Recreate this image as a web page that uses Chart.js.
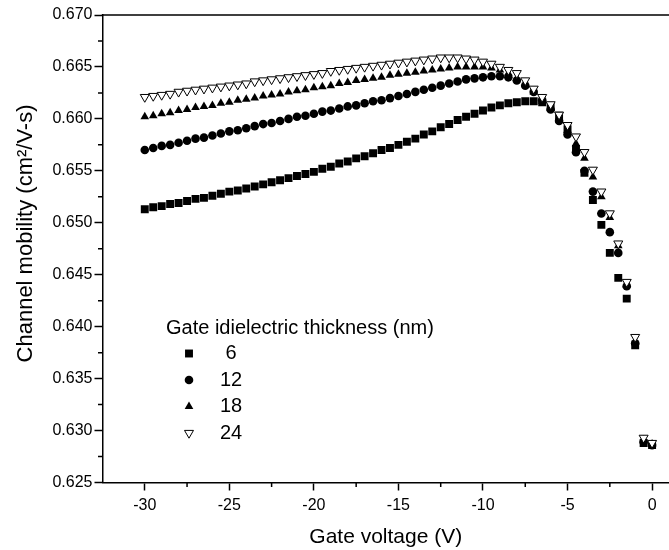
<!DOCTYPE html>
<html><head><meta charset="utf-8">
<script src="https://cdn.jsdelivr.net/npm/chart.js@4/dist/chart.umd.min.js"></script>
<style>html,body{margin:0;padding:0;background:#fff;overflow:hidden}</style>
</head><body>
<canvas id="c" width="669" height="550"></canvas>
<script>
const gateVoltage = [-30,-29.5,-29,-28.5,-28,-27.5,-27,-26.5,-26,-25.5,
 -25,-24.5,-24,-23.5,-23,-22.5,-22,-21.5,-21,-20.5,
 -20,-19.5,-19,-18.5,-18,-17.5,-17,-16.5,-16,-15.5,
 -15,-14.5,-14,-13.5,-13,-12.5,-12,-11.5,-11,-10.5,
 -10,-9.5,-9,-8.5,-8,-7.5,-7,-6.5,-6,-5.5,
 -5,-4.5,-4,-3.5,-3,-2.5,-2,-1.5,-1,-0.5,0];
const mobility6 = [0.6513,0.6515,0.6516,0.6518,0.6519,0.6521,0.6523,0.6524,0.6526,0.6528,
 0.6530,0.6531,0.6533,0.6535,0.6537,0.6539,0.6541,0.6543,0.6545,0.6547,
 0.6549,0.6552,0.6554,0.6557,0.6559,0.6562,0.6564,0.6567,0.6570,0.6572,
 0.6575,0.6578,0.6581,0.6585,0.6588,0.6592,0.6595,0.6599,0.6602,0.6605,
 0.6608,0.6611,0.6613,0.6615,0.6616,0.6617,0.6617,0.6616,0.6612,0.6603,
 0.6590,0.6571,0.6548,0.6522,0.6498,0.6471,0.6447,0.6427,0.6382,0.6288,0.6286];
const mobility12 = [0.6570,0.6572,0.6574,0.6575,0.6577,0.6579,0.6581,0.6582,0.6584,0.6586,
 0.6588,0.6589,0.6591,0.6593,0.6595,0.6596,0.6598,0.6600,0.6602,0.6603,
 0.6605,0.6607,0.6608,0.6610,0.6612,0.6613,0.6615,0.6617,0.6618,0.6620,
 0.6622,0.6624,0.6626,0.6628,0.6630,0.6632,0.6634,0.6636,0.6638,0.6639,
 0.6640,0.6641,0.6641,0.6640,0.6637,0.6632,0.6626,0.6618,0.6609,0.6598,
 0.6585,0.6568,0.6550,0.6530,0.6509,0.6491,0.6471,0.6439,0.6384,0.6289,0.6286];
const mobility18 = [0.6602,0.6603,0.6605,0.6606,0.6608,0.6609,0.6611,0.6612,0.6613,0.6615,
 0.6616,0.6618,0.6619,0.6620,0.6622,0.6623,0.6624,0.6626,0.6627,0.6628,
 0.6630,0.6631,0.6632,0.6634,0.6635,0.6637,0.6638,0.6639,0.6640,0.6642,
 0.6643,0.6644,0.6645,0.6646,0.6647,0.6648,0.6649,0.6650,0.6650,0.6650,
 0.6650,0.6649,0.6647,0.6644,0.6639,0.6633,0.6626,0.6617,0.6610,0.6601,
 0.6589,0.6576,0.6562,0.6544,0.6525,0.6505,0.6478,0.6440,0.6385,0.6291,0.6287];
const mobility24 = [0.6621,0.6622,0.6623,0.6624,0.6626,0.6627,0.6628,0.6629,0.6630,0.6631,
 0.6632,0.6633,0.6634,0.6636,0.6637,0.6638,0.6639,0.6640,0.6641,0.6642,
 0.6643,0.6644,0.6646,0.6647,0.6648,0.6649,0.6650,0.6651,0.6652,0.6653,
 0.6654,0.6655,0.6656,0.6657,0.6658,0.6659,0.6659,0.6659,0.6658,0.6657,
 0.6655,0.6653,0.6650,0.6647,0.6644,0.6637,0.6629,0.6621,0.6614,0.6604,
 0.6594,0.6583,0.6568,0.6551,0.6530,0.6509,0.6480,0.6443,0.6390,0.6293,0.6288];
const seriesLabels = [' 6', '12', '18', '24'];
const legendTitle = 'Gate idielectric thickness (nm)';
const xTickValues = [-30,-25,-20,-15,-10,-5,0];
const xMinorTicks = [-27.5,-22.5,-17.5,-12.5,-7.5,-2.5];
const yTickValues = [0.625,0.630,0.635,0.640,0.645,0.650,0.655,0.660,0.665,0.670];
const yMinorTicks = [0.6275,0.6325,0.6375,0.6425,0.6475,0.6525,0.6575,0.6625,0.6675];

const FONT = '"Liberation Sans", Arial, Helvetica, sans-serif';
const pts = arr => gateVoltage.map((x, i) => ({x, y: arr[i]}));

const styles = [
  {pointStyle: 'rect', pointRadius: 5.6, backgroundColor: '#000', borderColor: '#000', borderWidth: 0, rotation: 0, order: 3},
  {pointStyle: 'circle', pointRadius: 4.3, backgroundColor: '#000', borderColor: '#000', borderWidth: 0, rotation: 0, order: 2},
  {pointStyle: 'triangle', pointRadius: 5, backgroundColor: '#000', borderColor: '#000', borderWidth: 0, rotation: 0, order: 1},
  {pointStyle: 'triangle', pointRadius: 5.2, backgroundColor: '#fff', borderColor: '#000', borderWidth: 1, rotation: 180, order: 0}
];
const seriesData = [mobility6, mobility12, mobility18, mobility24];

const datasets = seriesData.map((arr, i) => Object.assign({
  label: seriesLabels[i],
  data: pts(arr),
  showLine: false,
  pointHoverRadius: styles[i].pointRadius,
  pointBorderWidth: styles[i].borderWidth
}, styles[i]));

const extras = {
  id: 'extras',
  afterDraw(chart) {
    const {ctx, chartArea: a, scales: {x, y}} = chart;
    ctx.save();
    ctx.strokeStyle = '#000';
    ctx.lineWidth = 1.5;
    ctx.beginPath();
    ctx.moveTo(a.left - 0.75, a.top);
    ctx.lineTo(a.right, a.top);
    xMinorTicks.forEach(v => {
      const px = x.getPixelForValue(v);
      ctx.moveTo(px, a.bottom);
      ctx.lineTo(px, a.bottom + 4.5);
    });
    yMinorTicks.forEach(v => {
      const py = y.getPixelForValue(v);
      ctx.moveTo(a.left, py);
      ctx.lineTo(a.left - 4.5, py);
    });
    ctx.stroke();

    // legend
    const lx = 166, ty = 328;
    ctx.fillStyle = '#000';
    ctx.font = '20px ' + FONT;
    ctx.textBaseline = 'middle';
    ctx.textAlign = 'left';
    ctx.fillText(legendTitle, lx, ty);
    const rowY = [353.5, 380, 406.5, 433];
    datasets.forEach((ds, i) => {
      const cy = rowY[i];
      ctx.save();
      ctx.fillStyle = ds.backgroundColor;
      ctx.strokeStyle = ds.borderColor;
      ctx.lineWidth = ds.borderWidth;
      Chart.helpers.drawPoint(ctx, {
        pointStyle: ds.pointStyle,
        rotation: ds.rotation,
        radius: ds.pointRadius,
        borderWidth: ds.borderWidth
      }, 189, cy);
      ctx.restore();
      ctx.fillStyle = '#000';
      ctx.font = '20px ' + FONT;
      ctx.textBaseline = 'middle';
      ctx.fillText(ds.label, 220, cy);
    });
    ctx.restore();
  }
};

new Chart(document.getElementById('c'), {
  type: 'scatter',
  data: {datasets},
  options: {
    responsive: false,
    animation: false,
    devicePixelRatio: 1,
    layout: {autoPadding: false, padding: {top: 15, right: 0, left: 0, bottom: 0}},
    plugins: {legend: {display: false}, tooltip: {enabled: false}},
    scales: {
      x: {
        type: 'linear',
        min: -32.5, max: 1,
        afterBuildTicks: s => { s.ticks = xTickValues.map(v => ({value: v})); },
        afterFit: s => { s.height = 67.5; s.paddingLeft = 0; s.paddingRight = 0; },
        grid: {display: true, drawOnChartArea: false, drawTicks: true, tickLength: 8, tickColor: '#000', tickWidth: 1.5},
        border: {display: true, color: '#000', width: 1.5},
        ticks: {color: '#000', padding: 5, font: {family: FONT, size: 16}, maxRotation: 0, autoSkip: false,
          callback: v => String(v)},
        title: {display: true, text: 'Gate voltage (V)', color: '#000', font: {family: FONT, size: 21}, padding: {top: 0, bottom: 0}}
      },
      y: {
        type: 'linear',
        min: 0.625, max: 0.670,
        afterBuildTicks: s => { s.ticks = yTickValues.map(v => ({value: v})); },
        afterFit: s => { s.width = 102.5; s.paddingTop = 0; s.paddingBottom = 0; },
        grid: {display: true, drawOnChartArea: false, drawTicks: true, tickLength: 8, tickColor: '#000', tickWidth: 1.5},
        border: {display: true, color: '#000', width: 1.5},
        ticks: {color: '#000', padding: 2, font: {family: FONT, size: 16}, autoSkip: false,
          callback: v => v.toFixed(3)},
        title: {display: true, text: '     Channel mobility (cm²/V-s)', color: '#000', font: {family: FONT, size: 22}, padding: {top: 13, bottom: 0}}
      }
    }
  },
  plugins: [extras]
});
</script>
</body></html>
